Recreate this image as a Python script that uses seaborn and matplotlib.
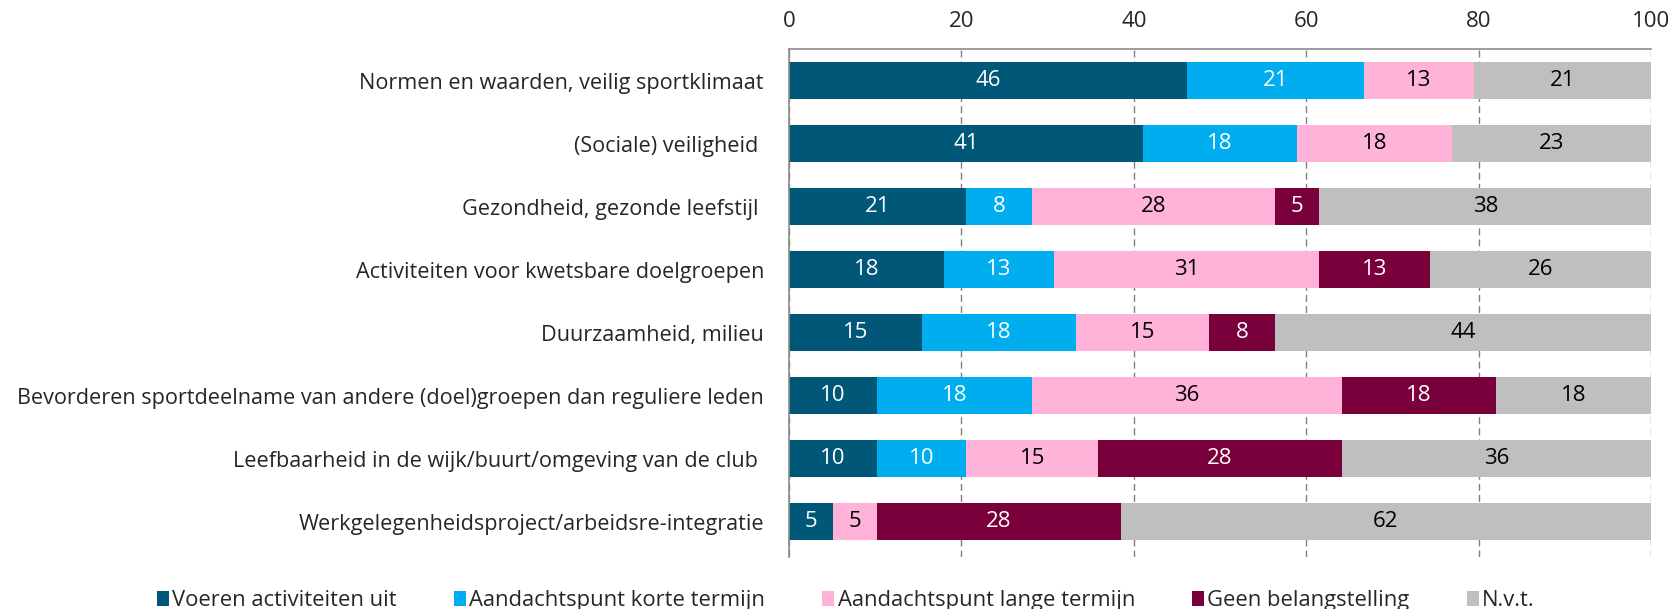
import numpy as np
import pandas as pd
import seaborn as sns
import matplotlib.pyplot as plt
from matplotlib.patches import Patch

# percentages per category
categories = [
    "Normen en waarden, veilig sportklimaat",
    "(Sociale) veiligheid ",
    "Gezondheid, gezonde leefstijl ",
    "Activiteiten voor kwetsbare doelgroepen",
    "Duurzaamheid, milieu",
    "Bevorderen sportdeelname van andere (doel)groepen dan reguliere leden",
    "Leefbaarheid in de wijk/buurt/omgeving van de club ",
    "Werkgelegenheidsproject/arbeidsre-integratie",
]
voeren = [46.15, 41.03, 20.51, 17.95, 15.38, 10.26, 10.26, 5.13]
korte = [20.51, 17.95, 7.69, 12.82, 17.95, 17.95, 10.26, 0.0]
lange = [12.82, 17.95, 28.21, 30.77, 15.38, 35.90, 15.38, 5.13]
geen = [0.0, 0.0, 5.13, 12.82, 7.69, 17.95, 28.21, 28.21]
nvt = [20.51, 23.08, 38.46, 25.64, 43.59, 17.95, 35.90, 61.54]

series_names = ["Voeren activiteiten uit", "Aandachtspunt korte termijn",
                "Aandachtspunt lange termijn", "Geen belangstelling", "N.v.t."]
colors = ["#005778", "#00AEEF", "#FFB3D9", "#7A003C", "#BFBFBF"]
text_colors = ["white", "white", "black", "white", "black"]
xticks = [0, 20, 40, 60, 80, 100]

sns.set_theme(style="white")
plt.rcParams["font.family"] = ["Open Sans", "DejaVu Sans"]

df = pd.DataFrame({"cat": categories})
for name, vals in zip(series_names, [voeren, korte, lange, geen, nvt]):
    df[name] = vals
cum = df[series_names].cumsum(axis=1)

fig = plt.figure(figsize=(16.75, 6.09), dpi=100)
ax = fig.add_axes([0.471, 0.0854, 0.5147, 0.8341])

# stacked bars: draw cumulative totals from the outermost inwards
for name, col in reversed(list(zip(series_names, colors))):
    sns.barplot(x=cum[name], y=df["cat"], color=col, width=0.59,
                saturation=1, linewidth=0, ax=ax, orient="h")

# value labels in the middle of each segment
for name, tcol in zip(series_names, text_colors):
    for i, v in enumerate(df[name]):
        if v <= 0:
            continue
        ax.text(cum[name][i] - v / 2, i, f"{round(v)}", ha="center", va="center",
                color=tcol, fontsize=16)

ax.set_xlim(0, 100)
ax.set_ylim(7.56, -0.5)
ax.set_xticks(xticks)
ax.xaxis.tick_top()
ax.tick_params(axis="x", length=0, pad=12, labelsize=16)
ax.tick_params(axis="y", length=0, pad=18, labelsize=15.6)
ax.set_xlabel("")
ax.set_ylabel("")
ax.grid(axis="x", linestyle=(0, (5, 3)), color="#808080", linewidth=1)
ax.set_axisbelow(True)
for s in ["bottom", "right"]:
    ax.spines[s].set_visible(False)
for s in ["top", "left"]:
    ax.spines[s].set_color("#8c8c8c")
    ax.spines[s].set_linewidth(1.2)

handles = [Patch(facecolor=c, edgecolor="none", label=n) for n, c in zip(series_names, colors)]
fig.legend(handles=handles, loc="center", bbox_to_anchor=(0.505, 0.014), ncol=5,
           frameon=False, fontsize=15.8, handlelength=0.55, handleheight=0.7,
           handletextpad=0.15, columnspacing=2.6)

fig.savefig("out.png", dpi=100)
